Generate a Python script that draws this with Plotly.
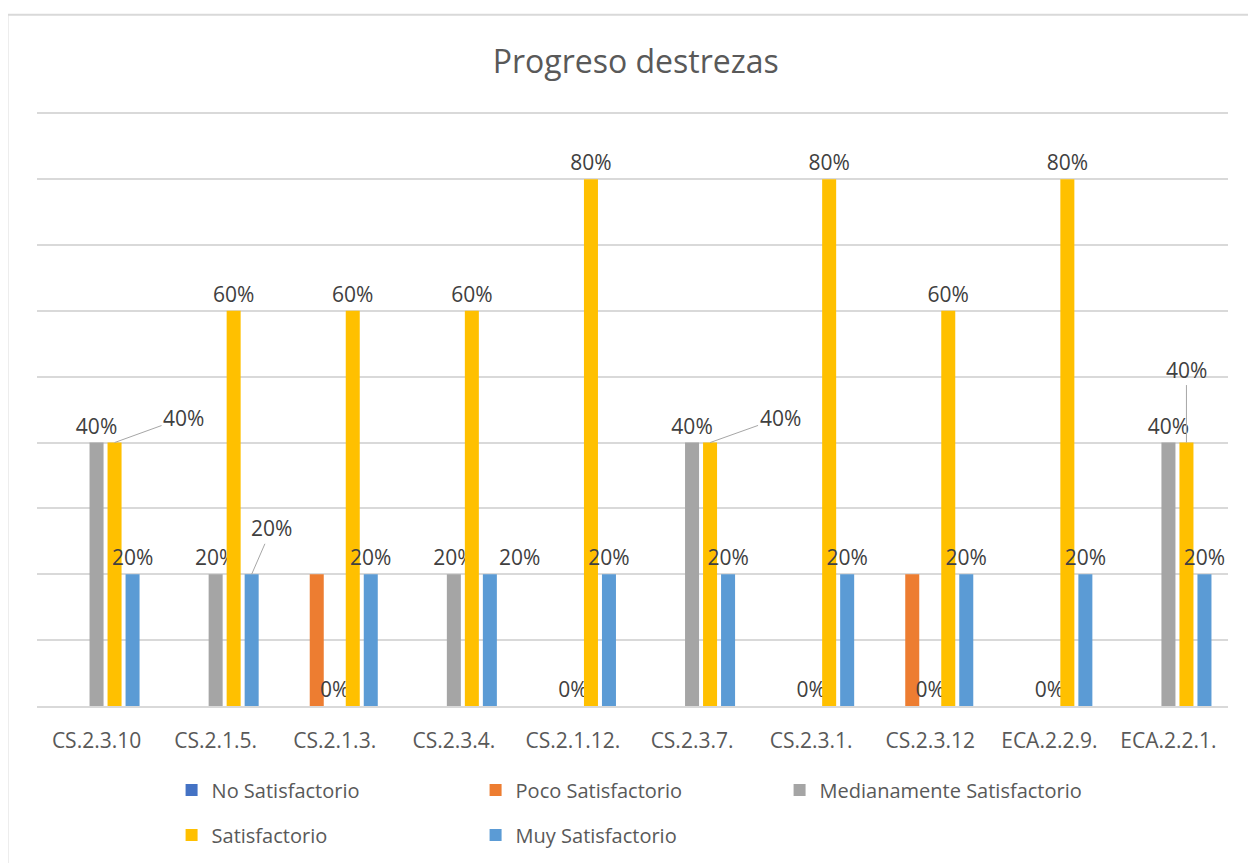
import plotly.graph_objects as go

categories = ["CS.2.3.10", "CS.2.1.5.", "CS.2.1.3.", "CS.2.3.4.", "CS.2.1.12.",
              "CS.2.3.7.", "CS.2.3.1.", "CS.2.3.12", "ECA.2.2.9.", "ECA.2.2.1."]
series_names = ["No Satisfactorio", "Poco Satisfactorio", "Medianamente Satisfactorio",
                "Satisfactorio", "Muy Satisfactorio"]
no_satisfactorio = [None] * 10
poco_satisfactorio = [None, None, 0.2, None, None, None, None, 0.2, None, None]
medianamente = [0.4, 0.2, 0.0, 0.2, 0.0, 0.4, 0.0, 0.0, 0.0, 0.4]
satisfactorio = [0.4, 0.6, 0.6, 0.6, 0.8, 0.4, 0.8, 0.6, 0.8, 0.4]
muy_satisfactorio = [0.2, 0.2, 0.2, 0.2, 0.2, 0.2, 0.2, 0.2, 0.2, 0.2]

colors = ["#4472C4", "#ED7D31", "#A5A5A5", "#FFC000", "#5B9BD5"]
show_labels = [False, False, True, True, True]

# labels moved away from their bars (series index, category index, text dx, text dy, leader line)
moved_labels = [
    (3, 0, 69, -25, True),
    (4, 1, 20, -46, True),
    (4, 3, 30, 0, False),
    (3, 5, 70, -25, True),
    (3, 9, 0, -73, True),
]

FONT = "Open Sans"
LABEL_COLOR = "#404040"
TEXT_COLOR = "#595959"
GRID = "#D9D9D9"

values = [no_satisfactorio, poco_satisfactorio, medianamente, satisfactorio, muy_satisfactorio]
moved_keys = {(s, c) for s, c, *_ in moved_labels}

fig = go.Figure()
for si, (name, vals, col) in enumerate(zip(series_names, values, colors)):
    texts = []
    for ci, v in enumerate(vals):
        if not show_labels[si] or v is None or (si, ci) in moved_keys:
            texts.append("")
        else:
            texts.append(f"{round(v * 100)}%")
    fig.add_trace(go.Bar(
        x=categories, y=vals, name=name, marker=dict(color=col, line=dict(width=0)),
        text=texts, textposition="outside", cliponaxis=False, constraintext="none",
        textfont=dict(family=FONT, size=21, color=LABEL_COLOR),
        legend="legend" if si < 3 else "legend2",
        hoverinfo="skip",
    ))

slot_px = 18.0
for si, ci, dx, dy, leader in moved_labels:
    v = values[si][ci]
    shift = (si - 2) * slot_px
    if leader:
        fig.add_annotation(
            x=categories[ci], y=v, xshift=shift, ax=dx, ay=dy,
            text=f"{round(v * 100)}%", showarrow=True, arrowhead=0, arrowwidth=1,
            arrowcolor="#A6A6A6", standoff=0,
            font=dict(family=FONT, size=21, color=LABEL_COLOR),
        )
    else:
        fig.add_annotation(
            x=categories[ci], y=v, xshift=shift + dx, yshift=17 + dy,
            text=f"{round(v * 100)}%", showarrow=False,
            font=dict(family=FONT, size=21, color=LABEL_COLOR),
        )

# chart frame (left and top edges visible)
fig.add_shape(type="line", xref="paper", yref="paper", x0=-0.0248, x1=-0.0248,
              y0=-0.4, y1=1.160, line=dict(color=GRID, width=2))
fig.add_shape(type="line", xref="paper", yref="paper", x0=-0.0248, x1=1.1,
              y0=1.160, y1=1.160, line=dict(color=GRID, width=2))

fig.update_layout(
    width=1248, height=855,
    margin=dict(l=29, r=28, t=102, b=157, autoexpand=False),
    paper_bgcolor="white", plot_bgcolor="white",
    barmode="group", bargap=0.244, bargroupgap=0.222,
    title=dict(text="Progreso destrezas", x=0.503, xanchor="center",
               y=1 - 54 / 855, yanchor="middle", yref="container",
               font=dict(family=FONT, size=32, color=TEXT_COLOR)),
    xaxis=dict(showgrid=False, showline=True, linecolor=GRID, linewidth=1.5,
               ticks="", tickfont=dict(family=FONT, size=21, color=TEXT_COLOR),
               ticklabelstandoff=15, automargin=False),
    yaxis=dict(range=[0, 0.905], dtick=0.1, showgrid=True, gridcolor=GRID, gridwidth=1.5,
               showticklabels=False, zeroline=False, showline=False, automargin=False),
    legend=dict(orientation="h", x=0.113, xanchor="left", y=-0.141, yanchor="middle",
                entrywidth=259, entrywidthmode="pixels",
                font=dict(family=FONT, size=20, color=TEXT_COLOR)),
    legend2=dict(orientation="h", x=0.113, xanchor="left", y=-0.2164, yanchor="middle",
                 entrywidth=259, entrywidthmode="pixels",
                 font=dict(family=FONT, size=20, color=TEXT_COLOR)),
    showlegend=True,
)

fig.write_html("out.html")
